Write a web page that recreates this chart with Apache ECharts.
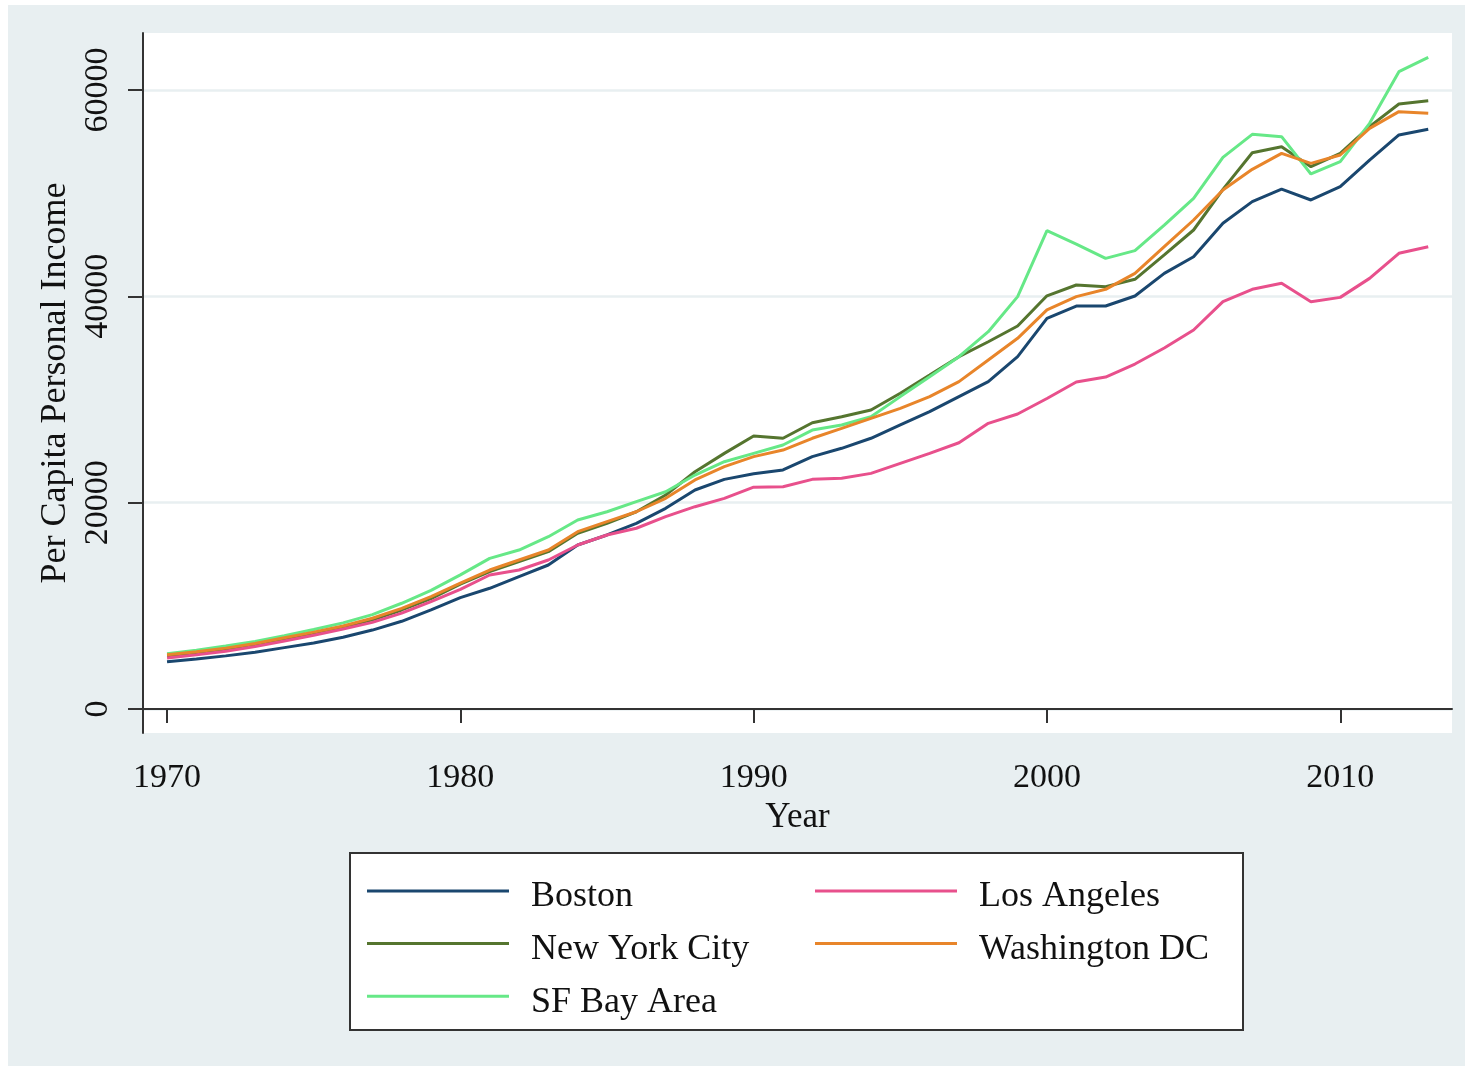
<!DOCTYPE html>
<html>
<head>
<meta charset="utf-8">
<script src="https://cdn.jsdelivr.net/npm/echarts@6/dist/echarts.min.js"></script>
<style>
html,body{margin:0;padding:0;background:#ffffff;}
#chart{width:1465px;height:1068px;}
</style>
</head>
<body>
<div id="chart"></div>
<script>
var years = [];
for (var y = 1970; y <= 2013; y++) years.push(y);

var boston = [4580,4850,5150,5500,5950,6400,6950,7650,8500,9600,
  10800,11700,12830,13960,15900,16870,18000,19450,21230,22260,
  22800,23170,24460,25270,26240,27530,28820,30280,31730,34150,
  37870,39060,39060,40030,42230,43840,47080,49180,50400,49340,
  50630,53210,55640,56190];
var nyc = [5150,5450,5800,6250,6800,7350,7950,8650,9600,10700,
  12100,13310,14280,15250,17030,18000,19120,20740,23000,24780,
  26460,26240,27750,28330,28980,30600,32370,34150,35600,37120,
  40050,41100,40940,41650,44010,46430,50370,53920,54500,52570,
  53860,56450,58640,58960];
var sf = [5350,5700,6100,6550,7100,7700,8350,9150,10250,11500,
  13000,14600,15410,16700,18320,19120,20100,21060,22680,23970,
  24780,25590,27040,27530,28330,30280,32210,34150,36570,39970,
  46370,45070,43680,44430,46910,49500,53470,55700,55480,51860,
  53050,56770,61780,63170];
var la = [4950,5250,5600,6050,6600,7150,7750,8400,9300,10400,
  11600,12990,13470,14440,15900,16870,17520,18640,19610,20420,
  21500,21550,22260,22360,22840,23810,24780,25810,27690,28590,
  30100,31700,32180,33440,34990,36740,39480,40680,41260,39480,
  39900,41740,44170,44810];
var dc = [5250,5550,5900,6350,6900,7450,8050,8800,9750,10900,
  12200,13470,14440,15410,17190,18160,19120,20420,22200,23490,
  24460,25100,26240,27200,28170,29140,30280,31730,33830,35930,
  38680,39970,40680,42230,44810,47400,50310,52310,53860,52890,
  53700,56280,57900,57740];

var xTicks = [1970, 1980, 1990, 2000, 2010];
var yTicks = [0, 20000, 40000, 60000];

var seriesDefs = [
  {name: 'Boston', data: boston, color: '#1a476f'},
  {name: 'New York City', data: nyc, color: '#55752f'},
  {name: 'SF Bay Area', data: sf, color: '#66e887'},
  {name: 'Los Angeles', data: la, color: '#e8508c'},
  {name: 'Washington DC', data: dc, color: '#e8852a'}
];

var FONT = '"Liberation Serif", "DejaVu Serif", serif';

var series = seriesDefs.map(function (s) {
  return {
    name: s.name,
    type: 'line',
    data: years.map(function (yr, i) { return [yr, s.data[i]]; }),
    showSymbol: false,
    symbol: 'none',
    lineStyle: {color: s.color, width: 3},
    itemStyle: {color: s.color},
    emphasis: {disabled: true},
    z: 3
  };
});

function legendCfg(left, names) {
  return {
    orient: 'vertical',
    left: left,
    top: 867,
    padding: 0,
    itemWidth: 142,
    itemHeight: 3,
    itemGap: 4.6,
    icon: 'rect',
    selectedMode: false,
    data: names,
    formatter: function (name) { return '{t|' + name + '}'; },
    textStyle: {
      fontFamily: FONT,
      fontSize: 36,
      color: '#111',
      rich: {
        t: {
          fontFamily: FONT,
          fontSize: 36,
          color: '#111',
          lineHeight: 36,
          padding: [12, 0, 0, 17]
        }
      }
    }
  };
}

var chart = echarts.init(document.getElementById('chart'), null, {renderer: 'canvas'});
chart.setOption({
  backgroundColor: '#ffffff',
  animation: false,
  graphic: [
    {type: 'rect', z: -10, shape: {x: 8, y: 5, width: 1457, height: 1061}, style: {fill: '#e8eff1'}, silent: true},
    {type: 'rect', z: -5, shape: {x: 350, y: 853, width: 893, height: 177}, style: {fill: '#ffffff', stroke: '#333333', lineWidth: 2}, silent: true}
  ],
  grid: {
    left: 143, top: 33, right: 13, bottom: 335,
    show: true, backgroundColor: '#ffffff', borderWidth: 0
  },
  legend: [
    legendCfg(367, ['Boston', 'New York City', 'SF Bay Area']),
    legendCfg(815, ['Los Angeles', 'Washington DC'])
  ],
  xAxis: {
    type: 'value',
    min: 1969.18,
    max: 2013.81,
    name: 'Year',
    nameLocation: 'middle',
    nameGap: 65,
    nameTextStyle: {fontFamily: FONT, fontSize: 35, color: '#111'},
    axisLine: {show: true, lineStyle: {color: '#333', width: 2}},
    axisTick: {show: true, length: 14, lineStyle: {color: '#333', width: 2}, customValues: xTicks},
    axisLabel: {fontFamily: FONT, fontSize: 34, color: '#111', margin: 28, customValues: xTicks,
      formatter: function (v) { return String(v); }},
    splitLine: {show: false}
  },
  yAxis: {
    type: 'value',
    min: -2326,
    max: 65525,
    name: 'Per Capita Personal Income',
    nameLocation: 'middle',
    nameRotate: 90,
    nameGap: 61,
    nameTextStyle: {fontFamily: FONT, fontSize: 36, color: '#111'},
    axisLine: {show: true, lineStyle: {color: '#333', width: 2}},
    axisTick: {show: true, length: 15, lineStyle: {color: '#333', width: 2}, customValues: yTicks},
    axisLabel: {fontFamily: FONT, fontSize: 34, color: '#111', margin: 28, rotate: 90, customValues: yTicks,
      formatter: function (v) { return String(v); }},
    splitLine: {show: true, lineStyle: {color: '#e8eff1', width: 2.5}}
  },
  series: series
});
</script>
</body>
</html>
